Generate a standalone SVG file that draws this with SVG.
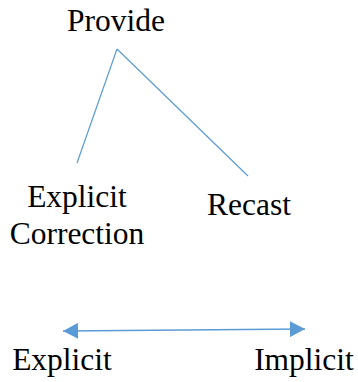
<svg xmlns="http://www.w3.org/2000/svg" width="358" height="382" viewBox="0 0 358 382">
  <style>
    text { font-family: 'Liberation Serif', 'Times New Roman', Times, 'DejaVu Serif', 'Noto Serif', serif; font-size: 31.5px; fill: #000; text-anchor: middle; }
    .branch { stroke: #5B9BD5; stroke-width: 1.2; fill: none; }
    .scale { stroke: #5B9BD5; stroke-width: 1.6; fill: none; }
  </style>
  <defs>
    <marker id="head" viewBox="0 0 15 16" refX="15" refY="8" markerWidth="15" markerHeight="16" markerUnits="userSpaceOnUse" orient="auto-start-reverse">
      <path d="M0,0 L15,8 L0,16 Z" fill="#5B9BD5"/>
    </marker>
  </defs>
  <rect width="358" height="382" fill="#fff"/>

  <g id="connectors">
    <path class="branch" d="M117,49 L77,163"/>
    <path class="branch" d="M117,49 L248,176"/>
    <path class="scale" d="M63,331 L305,329" marker-start="url(#head)" marker-end="url(#head)"/>
  </g>

  <g id="provide">
    <text x="116" y="31">Provide</text>
  </g>
  <g id="explicit-correction">
    <text x="77" y="207">Explicit</text>
    <text x="77" y="244">Correction</text>
  </g>
  <g id="recast">
    <text x="249" y="215">Recast</text>
  </g>
  <g id="explicit-end">
    <text x="62" y="370">Explicit</text>
  </g>
  <g id="implicit-end">
    <text x="304" y="370">Implicit</text>
  </g>
</svg>
